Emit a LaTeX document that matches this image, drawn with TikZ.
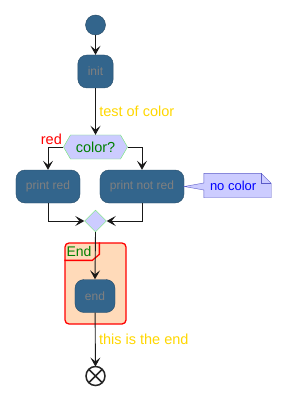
\documentclass[tikz,border=0pt]{standalone}
\usepackage{fontspec}
\setmainfont{Liberation Sans}
\usetikzlibrary{shapes.geometric, shapes.symbols, arrows.meta, positioning}

\definecolor{actblue}{RGB}{51,101,140}
\definecolor{lavender}{RGB}{204,204,255}
\definecolor{hexline}{RGB}{110,235,110}
\definecolor{darkgreen}{RGB}{0,128,0}
\definecolor{goldtext}{RGB}{255,215,0}
\definecolor{noteline}{RGB}{90,90,200}
\definecolor{peach}{RGB}{255,218,185}

\begin{document}
\begin{tikzpicture}[
    x=1pt, y=-1pt,
    every node/.style={font=\fontsize{12}{14}\selectfont},
    action/.style={rectangle, rounded corners=9pt, draw=actblue!75!black, fill=actblue, text=gray, minimum height=33pt, inner xsep=10pt},
    startdot/.style={circle, draw=actblue!70!black, fill=actblue, minimum size=20pt, inner sep=0pt},
    stopdot/.style={circle, draw=black!85, line width=1.5pt, fill=white, minimum size=19pt, inner sep=0pt, outer sep=0pt},
    choice/.style={signal, signal to=west and east, signal pointer angle=120, draw=hexline, fill=lavender, text=darkgreen, minimum width=64pt, minimum height=24pt, inner sep=1pt, font=\fontsize{14.5}{17}\selectfont},
    merge/.style={diamond, draw=hexline, fill=lavender, minimum size=22pt, inner sep=0pt},
    groupbox/.style={rectangle, rounded corners=4pt, draw=red, line width=1.3pt, fill=peach, minimum width=61pt, minimum height=81pt},
    notebox/.style={inner sep=0pt, minimum width=67pt, minimum height=24pt},
    notetext/.style={text=blue, font=\fontsize{13}{15}\selectfont},
    flowlabel/.style={font=\fontsize{14.5}{17}\selectfont, text=goldtext},
    arr/.style={-{Stealth[length=9pt,width=10pt,inset=4pt]}, line width=0.9pt, black!90}
]
    \useasboundingbox (0,0) rectangle (291,406);

    % Group
    \node[groupbox] (grp) at (95.5,283.5) {};
    \draw[red, line width=1.3pt] ([yshift=-18pt]grp.north west) -- ++(28,0) -- ++(7,-6) -- ++(0,-12);
    \node[anchor=west, inner sep=1pt, text=darkgreen, font=\fontsize{14}{16}\selectfont] (grptitle) at ([xshift=1pt,yshift=-9pt]grp.north west) {End};

    % Activities
    \node[startdot] (start) at (95.5,25) {};
    \node[action] (init) at (95.5,71.5) {init};
    \node[choice] (color) at (95.5,147) {color?};
    \node[action] (printred) at (48,186.5) {print red};
    \node[action] (printnot) at (142,186.5) {print not red};
    \node[merge] (merge) at (95.5,221) {};
    \node[action] (endact) at (95,296) {end};
    \node[stopdot] (stop) at (95.5,376) {};
    \draw[line width=1.5pt, black!85] (stop.north west) -- (stop.south east) (stop.north east) -- (stop.south west);

    % Note
    \node[notebox] (note) at (237.5,185.5) {};
    \draw[noteline, fill=lavender] (note.north west) -- ([xshift=-10pt]note.north east) -- ([yshift=-10pt]note.north east) -- (note.south east) -- (note.south west) -- ([yshift=-4.5pt]note.west) -- (printnot.east) -- ([yshift=2.5pt]note.west) -- cycle;
    \draw[noteline] ([xshift=-10pt]note.north east) -- ([xshift=-10pt,yshift=-10pt]note.north east) -- ([yshift=-10pt]note.north east);
    \node[notetext, anchor=west, inner sep=0pt] (notelabel) at ([xshift=6pt]note.west) {no color};

    % Arrows
    \draw[arr] (start) -- (init);
    \draw[arr] (init) -- node[flowlabel, right] {test of color} (color);
    \draw[arr] (color.west) -| node[flowlabel, pos=0, anchor=base east, inner sep=1pt, yshift=3pt, text=red] {red} (printred.north);
    \draw[arr] (color.east) -| (printnot.north);
    \draw[arr] (printred.south) |- (merge.west);
    \draw[arr] (printnot.south) |- (merge.east);
    \draw[arr] (merge.south) -- (endact.north);
    \draw[arr] (endact) -- node[flowlabel, right] {this is the end} (stop);
\end{tikzpicture}
\end{document}
